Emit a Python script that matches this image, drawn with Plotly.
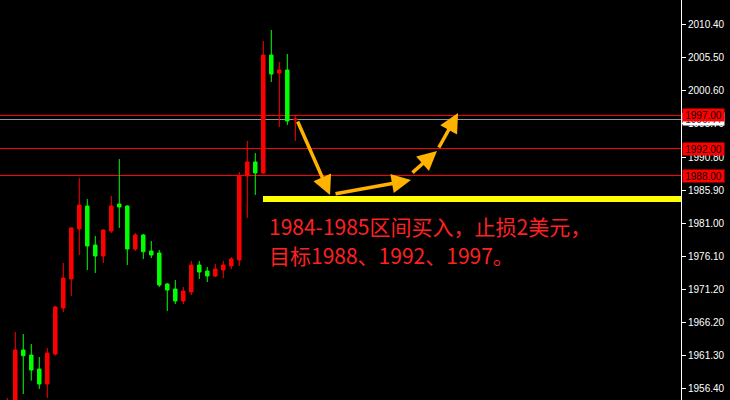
import plotly.graph_objects as go

# ---- data ----
bar_index = list(range(-1, 36))
opens = [1952.0, 1953.5, 1962.14, 1961.40, 1959.32, 1957.09, 1961.55, 1968.38, 1972.69, 1980.11,
         1983.52, 1977.73, 1976.10, 1979.81, 1983.82, 1983.52, 1977.14, 1979.22, 1976.84, 1976.55,
         1971.94, 1971.20, 1969.42, 1970.76, 1974.76, 1973.87, 1973.13, 1974.02, 1974.62, 1975.51,
         1987.98, 1990.06, 1988.42, 2005.94, 2003.27, 2003.72, 1996.29]
highs = [1955.02, 1964.82, 1964.52, 1963.03, 1961.10, 1962.44, 1968.72, 1975.06, 1980.30, 1987.68,
         1984.56, 1979.07, 1980.00, 1985.01, 1990.50, 1983.60, 1979.52, 1979.37, 1978.33, 1976.99,
         1972.09, 1972.54, 1971.50, 1975.36, 1975.36, 1974.47, 1974.91, 1975.36, 1975.95, 1988.57,
         1993.18, 1991.39, 2008.02, 2009.66, 2004.91, 2006.09, 1996.89]
lows = [1951.0, 1953.0, 1955.61, 1957.59, 1956.35, 1955.02, 1961.30, 1967.79, 1970.16, 1976.25,
        1974.02, 1973.58, 1975.06, 1979.52, 1980.26, 1974.76, 1976.84, 1975.65, 1975.80, 1971.50,
        1967.93, 1968.97, 1968.97, 1970.31, 1972.69, 1972.24, 1972.98, 1972.83, 1974.17, 1974.62,
        1981.74, 1985.16, 1988.30, 2001.94, 1995.25, 1995.55, 1993.18]
closes = [1953.8, 1962.14, 1961.30, 1959.17, 1957.09, 1961.70, 1968.53, 1972.83, 1980.26, 1983.67,
          1977.59, 1976.10, 1979.96, 1983.52, 1983.38, 1977.14, 1979.22, 1976.74, 1976.25, 1971.79,
          1971.05, 1969.42, 1970.90, 1974.76, 1973.72, 1973.13, 1974.17, 1974.76, 1975.65, 1987.98,
          1990.06, 1988.42, 2005.94, 2003.12, 2003.72, 1996.15, 1996.44]

tick_values = [2010.40, 2005.50, 2000.60, 1995.70, 1990.80, 1985.90,
               1981.00, 1976.10, 1971.20, 1966.20, 1961.30, 1956.40]
level_lines = [1997.00, 1992.00, 1988.00]
current_price = 1996.44
buy_zone = [1984.12, 1985.01]
zone_start = 30.9

# arrows: (tail_x, tail_y, head_x, head_y) in bar index / price
arrow_tails_x = [35.21, 39.84, 49.46, 52.84]
arrow_tails_y = [1996.29, 1985.31, 1988.28, 1991.99]
arrow_heads_x = [39.34, 49.46, 52.71, 55.34]
arrow_heads_y = [1985.16, 1987.38, 1991.69, 1997.33]

note_line1 = "1984-1985区间买入，止损2美元，"
note_line2 = "目标1988、1992、1997。"

RED = "#FF0000"
GREEN = "#00FF00"

fig = go.Figure()
fig.add_trace(go.Candlestick(
    x=bar_index, open=opens, high=highs, low=lows, close=closes,
    increasing=dict(line=dict(color=RED, width=1), fillcolor=RED),
    decreasing=dict(line=dict(color=GREEN, width=1), fillcolor=GREEN),
    whiskerwidth=0, hoverinfo="skip", showlegend=False,
))

shapes = []
for lv in level_lines:
    shapes.append(dict(type="line", xref="paper", x0=0, x1=1, yref="y", y0=lv, y1=lv,
                       line=dict(color=RED, width=1), layer="below"))
shapes.append(dict(type="line", xref="paper", x0=0, x1=1, yref="y", y0=current_price,
                   y1=current_price, line=dict(color="#8A96A0", width=1), layer="below"))
shapes.append(dict(type="rect", xref="x", x0=zone_start, x1=200, yref="y",
                   y0=buy_zone[0], y1=buy_zone[1], fillcolor="#FFFF00",
                   line=dict(width=0), layer="above"))

annotations = []
for tx, ty, hx, hy in zip(arrow_tails_x, arrow_tails_y, arrow_heads_x, arrow_heads_y):
    annotations.append(dict(x=hx, y=hy, ax=tx, ay=ty, xref="x", yref="y", axref="x", ayref="y",
                            text="", showarrow=True, arrowhead=2, arrowsize=1.1,
                            arrowwidth=3.5, arrowcolor="#FFB300"))

annotations.append(dict(x=31.45, y=1980.6, xref="x", yref="y", xanchor="left", yanchor="middle",
                        text=note_line1, showarrow=False,
                        font=dict(family="Noto Sans CJK SC", size=21, color="#FF2020")))
annotations.append(dict(x=31.45, y=1976.3, xref="x", yref="y", xanchor="left", yanchor="middle",
                        text=note_line2, showarrow=False,
                        font=dict(family="Noto Sans CJK SC", size=21, color="#FF2020")))

# current price label (white) then level labels (red) on right axis
annotations.append(dict(x=1, y=current_price, xref="paper", yref="y", xanchor="left",
                        yanchor="middle", xshift=1, text=f"{current_price:.2f}", showarrow=False,
                        bgcolor="#FFFFFF", width=41, height=12, borderpad=0,
                        font=dict(family="Liberation Sans", size=10, color="#1A2A60")))
for lv in level_lines:
    annotations.append(dict(x=1, y=lv, xref="paper", yref="y", xanchor="left", yanchor="middle",
                            xshift=1, text=f"{lv:.2f}", showarrow=False, bgcolor=RED,
                            width=41, height=12, borderpad=0,
                            font=dict(family="Liberation Sans", size=10, color="#000000")))

fig.update_layout(
    width=730, height=400,
    margin=dict(l=0, r=49, t=0, b=0),
    paper_bgcolor="#000000", plot_bgcolor="#000000",
    boxgap=0.38,
    shapes=shapes, annotations=annotations,
    xaxis=dict(range=[-1.91, 83.21], showgrid=False, zeroline=False, showticklabels=False,
               ticks="", showline=False, rangeslider=dict(visible=False), fixedrange=True),
    yaxis=dict(range=[1954.72, 2014.11], side="right", showgrid=False, zeroline=False,
               tickvals=tick_values, ticktext=[f"{v:.2f}" for v in tick_values],
               ticks="outside", ticklen=4, tickcolor="#FFFFFF", tickwidth=1,
               showline=True, linecolor="#FFFFFF", linewidth=1,
               tickfont=dict(family="Liberation Sans", size=10, color="#FFFFFF"),
               fixedrange=True),
)

post = (
    "document.body.style.margin='0';document.body.style.background='#000';"
    "document.querySelectorAll('.shapelayer path').forEach(function(p){"
    "p.style.shapeRendering='crispEdges';});"
)
fig.write_html("out.html", config={"displayModeBar": False}, post_script=post)
